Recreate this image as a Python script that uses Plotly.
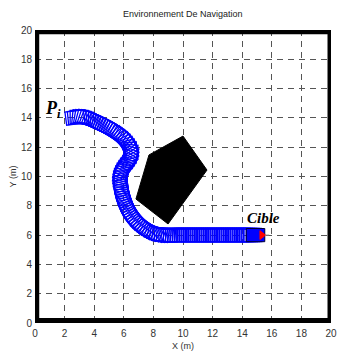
import numpy as np
import plotly.graph_objects as go

# Robot trajectory (centre of robot)
path_x = [2.7, 2.85, 3.0, 3.15, 3.3, 3.45, 3.6, 3.75, 3.9, 4.05, 4.2, 4.35, 4.5, 4.65, 4.8, 4.95, 5.1,
          5.25, 5.4, 5.55, 5.7, 5.84, 5.97, 6.1, 6.21, 6.3, 6.37, 6.42, 6.45, 6.45, 6.42, 6.37, 6.3,
          6.21, 6.11, 6.02, 5.94, 5.88, 5.83, 5.8, 5.78, 5.78, 5.79, 5.8, 5.82, 5.84, 5.87, 5.9, 5.94,
          5.98, 6.03, 6.08, 6.14, 6.2, 6.27, 6.35, 6.43, 6.52, 6.62, 6.72, 6.83, 6.95, 7.07, 7.2,
          7.34, 7.48, 7.63, 7.78, 7.94, 8.1, 8.25, 8.4, 8.55, 8.7, 8.85, 9.0,
          9.15, 9.3, 9.45, 9.6, 9.75, 9.9, 10.05, 10.2, 10.35, 10.5, 10.65, 10.8, 10.95, 11.1, 11.25,
          11.4, 11.55, 11.7, 11.85, 12.0, 12.15, 12.3, 12.45, 12.6, 12.75, 12.9, 13.05, 13.2, 13.35,
          13.5, 13.65, 13.8, 13.95, 14.1, 14.25, 14.4, 14.55, 14.7, 14.9]
path_y = [14.03, 14.05, 14.06, 14.05, 14.03, 14.0, 13.95, 13.9, 13.84, 13.77, 13.7, 13.63, 13.56,
          13.49, 13.41, 13.33, 13.24, 13.15, 13.05, 12.95, 12.84, 12.72, 12.59, 12.45, 12.3, 12.15,
          12.0, 11.85, 11.7, 11.55, 11.4, 11.25, 11.1, 10.95, 10.8, 10.65, 10.5, 10.35, 10.2, 10.05,
          9.9, 9.75, 9.6, 9.45, 9.3, 9.15, 9.0, 8.85, 8.7, 8.55, 8.4, 8.25, 8.1, 7.95, 7.8, 7.65,
          7.51, 7.37, 7.23, 7.1, 6.97, 6.85, 6.73, 6.62, 6.52, 6.42, 6.33, 6.25, 6.18, 6.12, 6.08,
          6.05, 6.03, 6.02, 6.01, 6.0,
          6.0, 6.0, 6.0, 6.0, 6.0, 6.0, 6.0, 6.0, 6.0, 6.0, 6.0, 6.0, 6.0, 6.0, 6.0,
          6.0, 6.0, 6.0, 6.0, 6.0, 6.0, 6.0, 6.0, 6.0, 6.0, 6.0, 6.0, 6.0, 6.0,
          6.0, 6.0, 6.0, 6.0, 6.0, 6.0, 6.0, 6.0, 6.0, 6.0]

# Obstacle polygon
obs_x = [10.0, 11.62, 8.99, 6.82, 7.70]
obs_y = [12.76, 10.44, 6.76, 8.46, 11.47]

tick_vals = [0, 2, 4, 6, 8, 10, 12, 14, 16, 18, 20]

ROBOT_L = 1.25
ROBOT_W = 0.9

px = np.array(path_x)
py = np.array(path_y)
n = len(px)
hx = np.gradient(px)
hy = np.gradient(py)
norm = np.hypot(hx, hy)
hx, hy = hx / norm, hy / norm


def rect(cx, cy, tx, ty, L, W):
    nx, ny = -ty, tx
    pts = [(+L / 2, +W / 2), (+L / 2, -W / 2), (-L / 2, -W / 2), (-L / 2, +W / 2), (+L / 2, +W / 2)]
    xs = [cx + a * tx + b * nx for a, b in pts]
    ys = [cy + a * ty + b * ny for a, b in pts]
    return xs, ys


rx, ry = [], []
for i in range(n - 1):
    xs, ys = rect(px[i], py[i], hx[i], hy[i], ROBOT_L, ROBOT_W)
    rx += xs + [None]
    ry += ys + [None]

fig = go.Figure()

fig.add_trace(go.Scatter(x=obs_x + [obs_x[0]], y=obs_y + [obs_y[0]], mode="lines", fill="toself",
                         fillcolor="black", line=dict(color="black", width=1), hoverinfo="skip"))

fig.add_trace(go.Scatter(x=rx, y=ry, mode="lines", line=dict(color="#0000ff", width=1.3), hoverinfo="skip"))

# final robot
fx, fy = rect(px[-1], py[-1], hx[-1], hy[-1], ROBOT_L, ROBOT_W)
fig.add_trace(go.Scatter(x=fx, y=fy, mode="lines", fill="toself", fillcolor="#0000ff",
                         line=dict(color="#000033", width=1), hoverinfo="skip"))
# red heading triangle
tip = px[-1] + ROBOT_L / 2 + 0.05
tx_ = [px[-1] + 0.3, tip, px[-1] + 0.3, px[-1] + 0.3]
ty_ = [py[-1] + 0.3, py[-1], py[-1] - 0.3, py[-1] + 0.3]
fig.add_trace(go.Scatter(x=tx_, y=ty_, mode="lines", fill="toself", fillcolor="red",
                         line=dict(color="red", width=1), hoverinfo="skip"))
fig.add_trace(go.Scatter(x=[tip, tip + 0.25], y=[py[-1], py[-1]], mode="lines",
                         line=dict(color="#888888", width=1), hoverinfo="skip"))

# walls
fig.add_shape(type="rect", x0=0.1, y0=0.15, x1=19.95, y1=19.9, line=dict(color="black", width=5.5))

fig.add_annotation(x=1.22, y=14.6, text="<b><i>P<sub>i</sub></i></b>", showarrow=False,
                   font=dict(family="Liberation Serif", size=18, color="black"))
fig.add_annotation(x=15.47, y=7.17, text="<b><i>Cible</i></b>", showarrow=False,
                   font=dict(family="Liberation Serif", size=15, color="black"))

axis_common = dict(range=[0, 20], tickvals=tick_vals, showgrid=True, gridcolor="#555555",
                   griddash="6px,5px", gridwidth=1, zeroline=False, showline=False, automargin=False,
                   ticks="", tickfont=dict(family="Liberation Sans", size=10, color="#333333"))

fig.update_layout(
    width=338, height=351,
    margin=dict(l=35, r=7, t=30, b=28),
    paper_bgcolor="white", plot_bgcolor="white",
    showlegend=False,
    title=dict(text="Environnement De Navigation", x=0.541, xanchor="center", y=0.96, yanchor="middle",
               font=dict(family="Liberation Sans", size=9, color="#222222")),
    xaxis=dict(**axis_common, ticklabelstandoff=3,
               title=dict(text="X (m)", standoff=4,
                          font=dict(family="Liberation Sans", size=9, color="#333333"))),
    yaxis=dict(**axis_common, ticklabelstandoff=2,
               title=dict(text="Y (m)", standoff=2,
                          font=dict(family="Liberation Sans", size=9, color="#333333"))),
)

fig.write_html("out.html")
